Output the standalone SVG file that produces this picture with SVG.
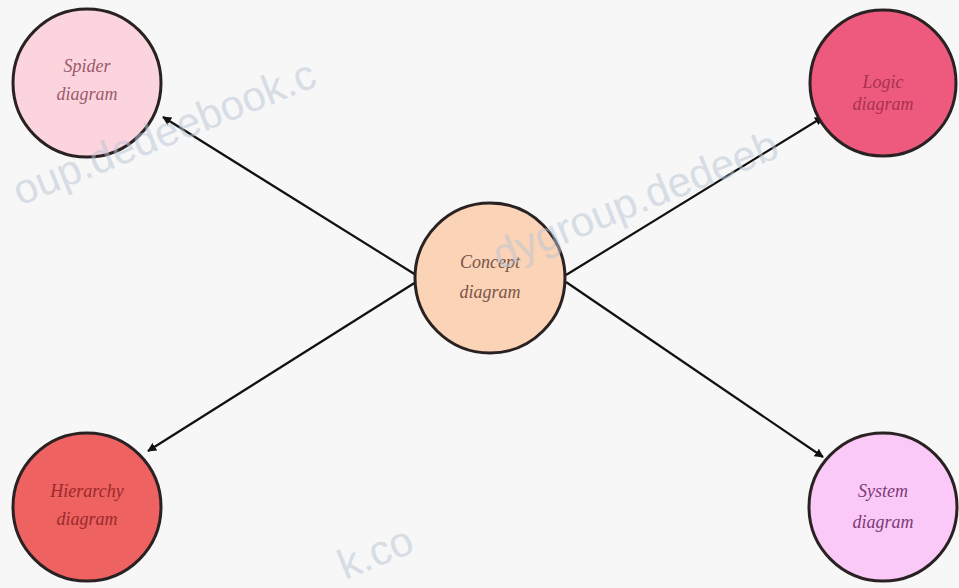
<svg xmlns="http://www.w3.org/2000/svg" width="959" height="588" viewBox="0 0 959 588">
<defs>
<marker id="ah" viewBox="0 0 10 10" refX="9" refY="5" markerWidth="9" markerHeight="9" orient="auto" markerUnits="userSpaceOnUse"><path d="M0,0 L10,5 L0,10 z" fill="#111"/></marker>
<style>
.node{stroke:#2a2222;stroke-width:3}
.lbl{font-family:"Liberation Serif",serif;font-size:18px;font-style:italic;text-anchor:middle}
.edge{stroke:#111;stroke-width:2.2;fill:none;marker-end:url(#ah)}
.wm{font-family:"Liberation Sans",sans-serif;font-size:42px;fill:#b8c4d4;opacity:0.5}
</style>
</defs>
<rect width="959" height="588" fill="#f7f7f7"/>
<g id="edges">
<line class="edge" x1="416" y1="275" x2="163" y2="117"/>
<line class="edge" x1="566" y1="275" x2="823" y2="117"/>
<line class="edge" x1="416" y1="282" x2="148" y2="451"/>
<line class="edge" x1="566" y1="282" x2="823" y2="457"/>
</g>
<g id="spider"><circle class="node" cx="87" cy="83" r="74" fill="#fcd4de"/><text class="lbl" x="87" y="72" fill="#9a5a6a">Spider</text><text class="lbl" x="87" y="100" fill="#9a5a6a">diagram</text></g>
<g id="logic"><circle class="node" cx="883" cy="83" r="73" fill="#ee5a7e"/><text class="lbl" x="883" y="88" fill="#a8324e">Logic</text><text class="lbl" x="883" y="110" fill="#a8324e">diagram</text></g>
<g id="concept"><circle class="node" cx="490" cy="278" r="75" fill="#fbd3b6"/><text class="lbl" x="490" y="268" fill="#7a5548">Concept</text><text class="lbl" x="490" y="298" fill="#7a5548">diagram</text></g>
<g id="hierarchy"><circle class="node" cx="87" cy="507" r="74" fill="#ee6262"/><text class="lbl" x="87" y="497" fill="#9a2a2a">Hierarchy</text><text class="lbl" x="87" y="525" fill="#9a2a2a">diagram</text></g>
<g id="system"><circle class="node" cx="883" cy="507" r="74" fill="#fbc9f7"/><text class="lbl" x="883" y="497" fill="#7a3a78">System</text><text class="lbl" x="883" y="528" fill="#7a3a78">diagram</text></g>
<g id="watermark">
<text class="wm" x="20" y="206" transform="rotate(-22 20 206)">oup.dedeebook.c</text>
<text class="wm" x="500" y="270" transform="rotate(-22 500 270)">dygroup.dedeeb</text>
<text class="wm" x="345" y="580" transform="rotate(-22 345 580)">k.co</text>
</g>
</svg>
